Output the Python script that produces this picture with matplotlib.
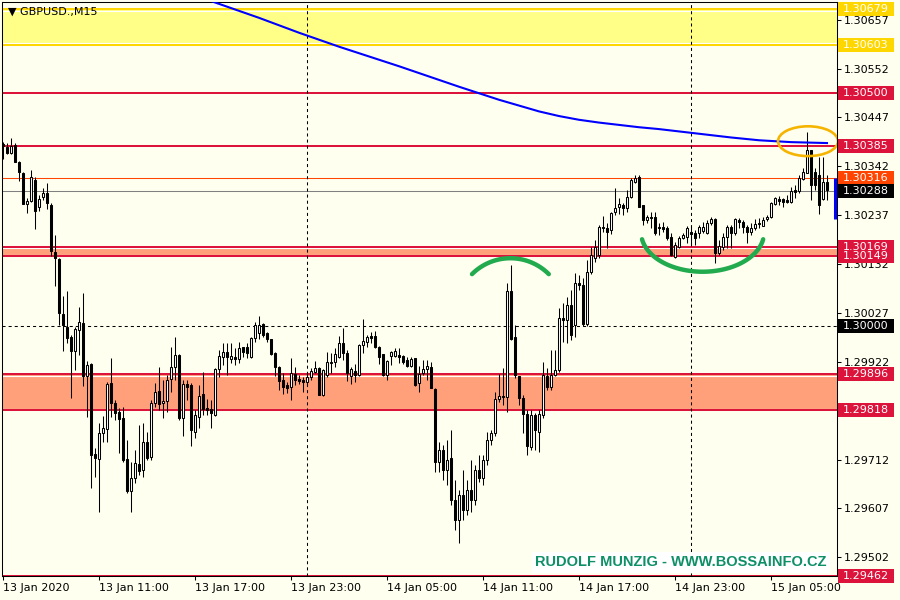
import numpy as np
import matplotlib
matplotlib.use("Agg")
import matplotlib.pyplot as plt
from matplotlib.patches import Rectangle, Ellipse
from matplotlib.transforms import offset_copy

plt.rcParams['font.family'] = ['DejaVu Sans']
plt.rcParams['lines.scale_dashes'] = False

# ---------------- data (GBPUSD M15) ----------------
opens = [
 1.30390,1.30383,1.30370,1.30388,1.30351,1.30328,1.30261,1.30267,1.30313,1.30255,
 1.30276,1.30285,1.30259,1.30158,1.30143,1.30025,1.29997,1.29976,1.29945,1.29991,
 1.30006,1.29892,1.29918,1.29724,1.29714,1.29769,1.29778,1.29877,1.29834,1.29814,
 1.29802,1.29714,1.29645,1.29673,1.29703,1.29690,1.29750,1.29718,1.29834,1.29860,
 1.29834,1.29838,1.29885,1.29911,1.29937,1.29802,1.29875,1.29872,1.29772,1.29804,
 1.29853,1.29823,1.29821,1.29808,1.29907,1.29933,1.29943,1.29928,1.29933,1.29928,
 1.29954,1.29954,1.29933,1.29973,1.29984,1.30003,1.29984,1.29971,1.29941,1.29911,
 1.29883,1.29872,1.29868,1.29896,1.29885,1.29883,1.29879,1.29890,1.29900,1.29909,
 1.29851,1.29894,1.29920,1.29922,1.29933,1.29963,1.29941,1.29892,1.29902,1.29894,
 1.29958,1.29965,1.29978,1.29978,1.29954,1.29939,1.29894,1.29935,1.29935,1.29937,
 1.29935,1.29926,1.29913,1.29930,1.29877,1.29898,1.29907,1.29911,1.29864,1.29707,
 1.29733,1.29690,1.29716,1.29626,1.29583,1.29636,1.29604,1.29647,1.29626,1.29690,
 1.29673,1.29711,1.29754,1.29769,1.29842,1.29849,1.29847,1.30074,1.29976,1.29892,
 1.29844,1.29810,1.29739,1.29808,1.29772,1.29808,1.29892,1.29868,1.29894,1.29905,
 1.30016,1.30012,1.30044,1.30001,1.30091,1.30087,1.30003,1.30115,1.30145,1.30152,
 1.30212,1.30209,1.30205,1.30244,1.30255,1.30259,1.30252,1.30276,1.30308,1.30319,
 1.30259,1.30227,1.30233,1.30233,1.30212,1.30212,1.30209,1.30190,1.30147,1.30169,
 1.30188,1.30190,1.30201,1.30199,1.30199,1.30203,1.30199,1.30220,1.30229,1.30156,
 1.30169,1.30190,1.30212,1.30199,1.30227,1.30222,1.30212,1.30201,1.30209,1.30218,
 1.30214,1.30229,1.30233,1.30261,1.30272,1.30272,1.30270,1.30265,1.30291,1.30289,
 1.30315,1.30328,1.30377,1.30330,1.30323,1.30272,1.30308]
highs = [
 1.30394,1.30392,1.30403,1.30392,1.30353,1.30330,1.30274,1.30334,1.30319,1.30280,
 1.30295,1.30306,1.30263,1.30194,1.30145,1.30063,1.30074,1.29980,1.29997,1.30040,
 1.30070,1.29924,1.29920,1.29737,1.29791,1.29806,1.29879,1.29930,1.29840,1.29823,
 1.29825,1.29754,1.29707,1.29733,1.29787,1.29791,1.29772,1.29840,1.29877,1.29911,
 1.29883,1.29894,1.29954,1.29976,1.29939,1.29883,1.29883,1.29877,1.29819,1.29872,
 1.29900,1.29842,1.29840,1.29909,1.29948,1.29963,1.29963,1.29963,1.29952,1.29965,
 1.29954,1.29963,1.29976,1.30008,1.30021,1.30006,1.29986,1.29971,1.29943,1.29913,
 1.29898,1.29879,1.29930,1.29911,1.29894,1.29890,1.29898,1.29909,1.29924,1.29911,
 1.29907,1.29943,1.29941,1.29952,1.29978,1.29995,1.29948,1.29911,1.29918,1.29961,
 1.30014,1.29980,1.29986,1.29988,1.29956,1.29939,1.29926,1.29945,1.29952,1.29952,
 1.29937,1.29933,1.29933,1.29930,1.29913,1.29926,1.29926,1.29922,1.29866,1.29750,
 1.29744,1.29754,1.29776,1.29668,1.29647,1.29690,1.29668,1.29711,1.29701,1.29722,
 1.29722,1.29772,1.29776,1.29857,1.29896,1.29909,1.30091,1.30130,1.30001,1.29892,
 1.29851,1.29819,1.29819,1.29812,1.29819,1.29922,1.29909,1.29948,1.29948,1.30038,
 1.30048,1.30061,1.30076,1.30113,1.30109,1.30102,1.30141,1.30169,1.30184,1.30216,
 1.30235,1.30220,1.30244,1.30295,1.30274,1.30263,1.30291,1.30317,1.30323,1.30323,
 1.30259,1.30237,1.30244,1.30244,1.30220,1.30222,1.30214,1.30199,1.30179,1.30192,
 1.30199,1.30214,1.30214,1.30205,1.30216,1.30222,1.30227,1.30233,1.30231,1.30184,
 1.30199,1.30216,1.30216,1.30231,1.30231,1.30227,1.30216,1.30220,1.30229,1.30231,
 1.30233,1.30237,1.30265,1.30276,1.30278,1.30274,1.30280,1.30298,1.30302,1.30323,
 1.30338,1.30416,1.30377,1.30338,1.30362,1.30362,1.30323]
lows = [
 1.30358,1.30368,1.30368,1.30351,1.30310,1.30261,1.30242,1.30265,1.30207,1.30246,
 1.30270,1.30250,1.30149,1.30085,1.30001,1.29945,1.29963,1.29844,1.29905,1.29937,
 1.29870,1.29804,1.29651,1.29675,1.29600,1.29750,1.29750,1.29804,1.29797,1.29726,
 1.29707,1.29641,1.29600,1.29662,1.29679,1.29675,1.29711,1.29711,1.29825,1.29819,
 1.29802,1.29814,1.29857,1.29883,1.29797,1.29763,1.29840,1.29741,1.29759,1.29780,
 1.29808,1.29808,1.29780,1.29806,1.29890,1.29915,1.29894,1.29920,1.29915,1.29920,
 1.29933,1.29930,1.29930,1.29965,1.29971,1.29976,1.29965,1.29937,1.29892,1.29862,
 1.29853,1.29855,1.29840,1.29872,1.29875,1.29857,1.29872,1.29883,1.29898,1.29851,
 1.29849,1.29890,1.29898,1.29911,1.29930,1.29926,1.29881,1.29875,1.29879,1.29892,
 1.29941,1.29954,1.29963,1.29952,1.29918,1.29892,1.29883,1.29915,1.29933,1.29920,
 1.29918,1.29911,1.29911,1.29870,1.29857,1.29894,1.29883,1.29866,1.29686,1.29686,
 1.29668,1.29658,1.29615,1.29561,1.29533,1.29583,1.29593,1.29600,1.29615,1.29664,
 1.29658,1.29701,1.29744,1.29763,1.29836,1.29829,1.29814,1.29969,1.29887,1.29829,
 1.29769,1.29722,1.29733,1.29733,1.29729,1.29802,1.29862,1.29862,1.29892,1.29900,
 1.29965,1.29963,1.29969,1.29976,1.30076,1.30000,1.30000,1.30111,1.30136,1.30145,
 1.30201,1.30166,1.30197,1.30237,1.30240,1.30237,1.30244,1.30274,1.30306,1.30255,
 1.30216,1.30220,1.30209,1.30194,1.30194,1.30201,1.30184,1.30149,1.30145,1.30166,
 1.30186,1.30177,1.30173,1.30173,1.30188,1.30199,1.30197,1.30216,1.30135,1.30152,
 1.30162,1.30166,1.30166,1.30194,1.30209,1.30199,1.30177,1.30194,1.30205,1.30209,
 1.30214,1.30225,1.30231,1.30259,1.30259,1.30255,1.30263,1.30263,1.30274,1.30285,
 1.30313,1.30328,1.30270,1.30291,1.30240,1.30270,1.30270]
closes = [
 1.30386,1.30370,1.30386,1.30351,1.30330,1.30261,1.30267,1.30319,1.30246,1.30272,
 1.30285,1.30263,1.30160,1.30145,1.30027,1.30001,1.29973,1.29945,1.29993,1.30008,
 1.29892,1.29915,1.29722,1.29716,1.29769,1.29780,1.29875,1.29834,1.29812,1.29799,
 1.29711,1.29645,1.29673,1.29705,1.29688,1.29750,1.29716,1.29834,1.29857,1.29832,
 1.29838,1.29883,1.29911,1.29937,1.29802,1.29875,1.29868,1.29776,1.29808,1.29849,
 1.29821,1.29819,1.29812,1.29907,1.29935,1.29943,1.29933,1.29935,1.29928,1.29952,
 1.29943,1.29941,1.29973,1.30001,1.30001,1.29980,1.29971,1.29939,1.29911,1.29881,
 1.29868,1.29866,1.29898,1.29883,1.29881,1.29879,1.29890,1.29902,1.29909,1.29851,
 1.29905,1.29922,1.29922,1.29939,1.29963,1.29941,1.29898,1.29907,1.29894,1.29958,
 1.29967,1.29976,1.29973,1.29954,1.29933,1.29894,1.29924,1.29943,1.29945,1.29933,
 1.29922,1.29913,1.29928,1.29872,1.29896,1.29907,1.29913,1.29866,1.29707,1.29733,
 1.29690,1.29711,1.29626,1.29583,1.29636,1.29604,1.29647,1.29626,1.29690,1.29673,
 1.29711,1.29754,1.29769,1.29842,1.29849,1.29847,1.30074,1.29971,1.29894,1.29844,
 1.29810,1.29741,1.29808,1.29776,1.29810,1.29894,1.29868,1.29894,1.29905,1.30016,
 1.30012,1.30044,1.29980,1.30091,1.30087,1.30003,1.30115,1.30152,1.30169,1.30212,
 1.30209,1.30201,1.30242,1.30252,1.30261,1.30252,1.30276,1.30313,1.30317,1.30255,
 1.30227,1.30233,1.30231,1.30199,1.30209,1.30207,1.30188,1.30152,1.30173,1.30188,
 1.30194,1.30209,1.30197,1.30188,1.30212,1.30212,1.30220,1.30229,1.30156,1.30171,
 1.30190,1.30212,1.30199,1.30229,1.30222,1.30212,1.30201,1.30209,1.30218,1.30220,
 1.30227,1.30233,1.30263,1.30274,1.30267,1.30265,1.30265,1.30289,1.30287,1.30317,
 1.30330,1.30377,1.30302,1.30302,1.30259,1.30308,1.30291]

time_labels = ["13 Jan 2020", "13 Jan 11:00", "13 Jan 17:00", "13 Jan 23:00",
               "14 Jan 05:00", "14 Jan 11:00", "14 Jan 17:00", "14 Jan 23:00",
               "15 Jan 05:00"]
label_bars = [0, 24, 48, 72, 96, 120, 144, 168, 192]
separator_bars = [76, 172]          # day separators (00:00)

ma_bars = [50, 53, 59, 64, 69, 74, 84, 99, 114, 124, 134, 139, 144, 149, 154, 159, 164,
           174, 182, 189, 197, 206]
ma_vals = [1.30704, 1.30694, 1.30676, 1.30661, 1.30645, 1.30629, 1.30599, 1.30557, 1.30513,
           1.30485, 1.30460, 1.30450, 1.30442, 1.30436, 1.30431, 1.30426, 1.30422,
           1.30412, 1.30404, 1.30398, 1.30394, 1.30392]

yellow_zone = (1.30603, 1.30679)
salmon_zones = [(1.30149, 1.30169), (1.29818, 1.29896)]
red_levels = [1.30500, 1.30385, 1.29462]
ask_level = 1.30316
bid_level = 1.30288
round_level = 1.30000
bid_bar = (1.30229, 1.30317)

axis_ticks = [1.29502, 1.29607, 1.29712, 1.29817, 1.29922, 1.30027, 1.30132,
              1.30237, 1.30342, 1.30447, 1.30552, 1.30657]

price_tags = [
    (1.30679, '#FFD700'), (1.30603, '#FFD700'), (1.30500, '#DC143C'),
    (1.30385, '#DC143C'), (1.30316, '#FF4500'), (1.30288, '#000000'),
    (1.30169, '#DC143C'), (1.30149, '#DC143C'), (1.30000, '#000000'),
    (1.29896, '#DC143C'), (1.29818, '#DC143C'), (1.29462, '#DC143C'),
]

# annotations: center bar, center price, width (bars), height (price), start/end angle (deg)
ellipse_note = (201.25, 1.30396, 15.0, 0.00064)
arc_notes = [(126.85, 1.30028, 27.15, 0.002332, 45, 135),
             (174.9, 1.30200, 30.75, 0.001688, 190, 350)]

title = "\u25BC GBPUSD.,M15"
watermark = "RUDOLF MUNZIG - WWW.BOSSAINFO.CZ"

# ---------------- figure ----------------
BG = '#FFFFF0'
W, H = 900, 600
fig = plt.figure(figsize=(9, 6), dpi=100, facecolor=BG)
ax_l, ax_r, ax_t, ax_b = 2, 837, 2, 576
ax = fig.add_axes([ax_l / W, 1 - ax_b / H, (ax_r - ax_l) / W, (ax_b - ax_t) / H], facecolor=BG)
ymin, ymax = 1.29462, 1.30695
ax.set_xlim(-0.25, 208.5)
ax.set_ylim(ymin, ymax)
px = (ymax - ymin) / (ax_b - ax_t)   # price per pixel

ytrans = ax.get_yaxis_transform()

# zones
ax.axhspan(*yellow_zone, color='#FFFF88', lw=0, zorder=1)
for lvl, d in ((yellow_zone[0], 1.6), (yellow_zone[1], -1.6)):
    ax.plot([0, 1], [lvl, lvl], color='white', lw=0.8,
            transform=offset_copy(ytrans, fig=fig, y=d, units='dots'), zorder=1.5)
    ax.axhline(lvl, color='#FFD700', lw=1.45, zorder=2)
for lo, hi in salmon_zones:
    ax.axhspan(lo, hi, color='#FFA07A', lw=0, zorder=1)
    for lvl, d in ((lo, 1.6), (hi, -1.6)):
        ax.plot([0, 1], [lvl, lvl], color='white', lw=0.8,
                transform=offset_copy(ytrans, fig=fig, y=d, units='dots'), zorder=1.5)
        ax.axhline(lvl, color='#DC143C', lw=1.45, zorder=2)
for lvl in red_levels:
    ax.axhline(lvl, color='#DC143C', lw=1.45, zorder=2)
ax.axhline(ask_level, color='#FF4500', lw=0.75, zorder=2)
ax.axhline(bid_level, color='#808080', lw=0.75, zorder=2)
ax.axhline(round_level, color='black', lw=0.75, ls=(0, (2.2, 2.2)), zorder=2)
for b in separator_bars:
    ax.axvline(b, color='black', lw=0.75, ls=(0, (2.2, 2.2)), zorder=2)

# candles
o = np.array(opens); h = np.array(highs); l = np.array(lows); c = np.array(closes)
idx = np.arange(len(o))
ax.vlines(idx, l, h, colors='black', lw=0.75, zorder=3)
body_bottom = np.minimum(o, c)
body_h = np.abs(c - o)
fills = ['white' if cc >= oo else 'black' for oo, cc in zip(o, c)]
ax.bar(idx, body_h, bottom=body_bottom, width=0.5, color=fills, edgecolor='black',
       linewidth=0.75, zorder=4)

# moving average
ax.plot(ma_bars, ma_vals, color='#0000FF', lw=1.5, zorder=5)

# bid bar at right edge
ax.plot([0.9976, 0.9976], list(bid_bar), color='#0000FF', lw=2.2, transform=ytrans,
        zorder=6, solid_capstyle='butt')

# annotations
ex, ey, ew, eh = ellipse_note
ax.add_patch(Ellipse((ex, ey), ew, eh, fill=False, edgecolor='#F5B400', lw=1.9, zorder=7))
for cx, cy, aw, ah, t1, t2 in arc_notes:
    t = np.radians(np.linspace(t1, t2, 80))
    ax.plot(cx + aw / 2 * np.cos(t), cy + ah / 2 * np.sin(t), color='#22AA4E', lw=3.2,
            solid_capstyle='round', zorder=7)

# axes styling
for s in ax.spines.values():
    s.set_color('black'); s.set_linewidth(0.75)
ax.yaxis.tick_right()
ax.set_yticks(axis_ticks)
ax.set_yticklabels([f"{v:.5f}" for v in axis_ticks])
ax.tick_params(axis='y', direction='out', length=3, width=0.75, pad=2, labelsize=8, colors='black')
ax.set_xticks(label_bars)
ax.set_xticklabels(time_labels, ha='left')
ax.tick_params(axis='x', direction='out', length=3, width=0.75, pad=2, labelsize=8)

# price tags on the right scale
tag_x0 = (838 - ax_l) / (ax_r - ax_l)
tag_w = 56 / (ax_r - ax_l)
text_x = (843 - ax_l) / (ax_r - ax_l)
for price, col in price_tags:
    ax.add_patch(Rectangle((tag_x0, price - 7 * px), tag_w, 14 * px, transform=ytrans,
                           facecolor=col, edgecolor='none', clip_on=False, zorder=10))
    ax.text(text_x, price, f"{price:.5f}", transform=ytrans, color='white', fontsize=8,
            va='center', ha='left', clip_on=False, zorder=11)

# texts
fig.text(8 / W, 1 - 12 / H, title, fontsize=8, va='center', ha='left', color='black')
fig.text(535 / W, 1 - 562 / H, watermark, fontsize=10.5, fontweight='bold',
         family='Liberation Sans', color='#0E8F68', va='center', ha='left',
         bbox=dict(facecolor='white', edgecolor='none', pad=2.5), zorder=20)

fig.savefig('out.png', dpi=100, facecolor=BG)
